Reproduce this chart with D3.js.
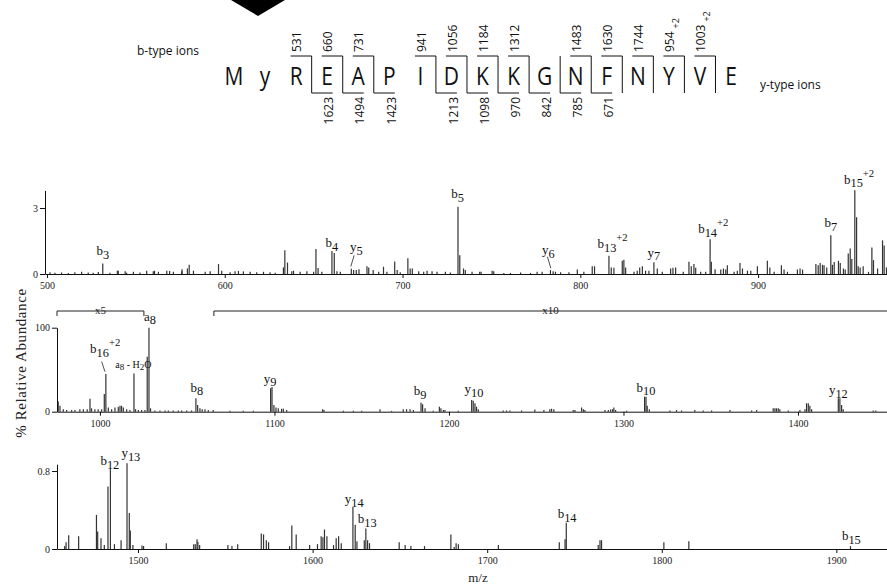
<!DOCTYPE html>
<html>
<head>
<meta charset="utf-8">
<script src="https://cdn.jsdelivr.net/npm/d3@7"></script>
<style>
  html, body { margin: 0; padding: 0; background: #fff; }
  svg { display: block; }
</style>
</head>
<body>
<svg id="chart" width="887" height="587"></svg>
<script>
// ---------- peptide sequence and fragment ladder ----------
const residues = ["M","y","R","E","A","P","I","D","K","K","G","N","F","N","Y","V","E"];
// b-type ions: cleavage after residue index
const bSites   = [2, 3, 4, 6, 7, 8, 9, 11, 12, 13, 14, 15];
const bMasses  = ["531","660","731","941","1056","1184","1312","1483","1630","1744","954","1003"];
const bCharges = ["","","","","","","","","","","+2","+2"];
// y-type ions: cleavage after residue index
const ySites  = [2, 3, 4, 6, 7, 8, 9, 10, 11];
const yMasses = ["1623","1494","1423","1213","1098","970","842","785","671"];

// ---------- spectrum segment 1 (m/z 499–972) ----------
const mz1 = [501.7,504.5,508.2,512,515.7,519.5,523.2,526,528.9,531.4,535.4,539.6,540.1,544,544.8,548.6,552.3,556.1,559.8,560.5,562.7,567.4,569,571.1,575.8,576,579,580,582.4,589,591.8,596.5,598.3,603,605.8,607.7,610.5,614.3,618,621.8,625.5,628.4,633,633.8,635.3,637.7,638.7,642.4,646.2,650,651.3,652.5,654.6,660.3,661.6,663.1,665,671.2,672.5,674,675.5,680,681,683.5,686.6,689.3,691.2,695.6,697,698.7,703,704.3,705.5,709.1,711.9,713.8,716.6,719.4,724.1,726.9,731.2,732.2,734.3,735.3,739.1,743.4,744.2,750.4,751.3,757,760.7,766.4,772,775.7,778.5,783.2,784.7,786,788.9,793.6,798.3,802,806.7,808,816.1,817.4,818.9,823.6,824.5,825.5,830.2,832,833.4,834.9,836.7,838.6,841.4,843.3,846.1,850.8,852.1,853.6,857.9,861.1,862.4,863.9,864.9,867.7,870.5,873,873.7,875.8,879,880.5,881.8,882.7,886.5,888.3,889.8,891.2,894,895.9,899.6,905.2,906.6,909,913.1,914.6,916.5,922.1,923.6,925,932.5,933.8,934.9,936.2,937.1,938.6,940.9,941.8,942.8,945.2,946.2,948,949,950.7,951.8,952.7,954.4,955.4,956.3,957.4,959.1,962.1,964,964.9,967.2,970,970.9,972.2];
const int1 = [0.08,0.06,0.07,0.05,0.08,0.1,0.07,0.06,0.09,0.48,0.06,0.15,0.15,0.12,0.06,0.1,0.07,0.15,0.12,0.15,0.1,0.15,0.14,0.1,0.12,0.22,0.25,0.42,0.15,0.1,0.12,0.45,0.15,0.08,0.12,0.14,0.12,0.1,0.08,0.1,0.08,0.06,0.3,1.08,0.52,0.12,0.15,0.1,0.12,0.1,1.14,0.27,0.1,1.04,0.95,0.12,0.1,0.24,0.18,0.18,0.22,0.35,0.3,0.18,0.1,0.33,0.1,0.57,0.18,0.08,0.72,0.25,0.25,0.12,0.1,0.15,0.12,0.1,0.1,0.07,3.06,0.85,0.25,0.18,0.1,0.1,0.1,0.15,0.12,0.05,0.05,0.07,0.05,0.1,0.1,0.18,0.12,0.1,0.08,0.08,0.2,0.1,0.35,0.35,0.83,0.3,0.28,0.6,0.65,0.3,0.1,0.15,0.3,0.35,0.15,0.15,0.53,0.25,0.1,0.25,0.28,0.3,0.1,0.56,0.35,0.45,0.28,0.1,0.1,1.58,0.56,0.22,0.2,0.25,0.2,0.4,0.1,0.15,0.5,0.25,0.15,0.15,0.35,0.6,0.3,0.1,0.4,0.2,0.1,0.2,0.25,0.2,0.45,0.4,0.5,0.42,0.4,0.3,1.76,0.42,0.55,0.6,0.5,0.25,0.2,0.93,1.16,0.68,3.81,2.58,0.35,0.3,0.35,0.1,1.2,0.63,0.25,1.53,1.3,0.3];

// ---------- spectrum segment 2 (m/z 975–1451) ----------
const mz2 = [976.1,977.1,979,980.9,983.8,985.7,988.5,990.5,992.7,994.3,995.2,997.1,999,1001,1002.5,1003.4,1004.8,1006.7,1008.6,1010.5,1011.5,1012.4,1013.4,1015.3,1017.2,1019.5,1020.4,1022,1023.9,1025.8,1027.1,1028.1,1029,1031.5,1034.4,1037.3,1039.2,1042,1044.9,1046.8,1049.7,1052.5,1055,1056,1057.3,1058.6,1060.2,1062.1,1064.9,1074.5,1082.1,1087.9,1097.8,1098.6,1099.7,1100.9,1102.2,1104.1,1105.1,1107,1127.6,1128.4,1139.5,1145.2,1150,1160.5,1167.1,1173.8,1175.7,1177.7,1179.6,1184,1184.9,1186.3,1191,1194.5,1195.4,1196.8,1197.7,1205.3,1213,1213.9,1214.9,1215.8,1216.8,1231.1,1233,1234.9,1241.6,1249.2,1254.4,1257.8,1258.8,1260.1,1271.2,1272.2,1276,1277,1277.9,1289.4,1291.3,1292.6,1293.7,1294.5,1295.5,1301.8,1312.1,1312.9,1313.6,1314.8,1326.6,1330.4,1333.3,1340.9,1345.7,1350.5,1361,1373.4,1376.3,1385.8,1386.8,1387.7,1388.7,1389.6,1394.4,1401.1,1404,1404.9,1405.9,1406.8,1407.8,1423.1,1424,1425,1425.9,1443.1,1444.6];
const int2 = [12,7,3,2,2,2,3,3,3,15.5,4,3,3,3,21,44.9,5,3,5,6,7,7,5,3,2,45.6,3,2,2,2,65.5,100,4,1.5,1.5,1.5,1.5,1.5,1.5,1.5,1.5,1.5,16,8,4,3,3,2,2,1,1,1,27.8,29.5,8,5,4,3.5,3.5,2,3,2,1,1,1,3,1,3,3,3,2,10.7,9,4,1,6,4,2,2,1,14,13,10,6,3,1.5,1.5,1.5,1.5,2.5,2,3,3.5,3,2,2,5,3,2,2,2,2.5,3,5,2,1,17.9,17.9,7,3,1.5,2,1.5,2,1.5,1.5,2,1.5,2,4,4,4,4,3,1.5,2,3,10,10,7,3,16,16,8,3,1.5,1.5];

// ---------- spectrum segment 3 (m/z 1454–1929) ----------
const mz3 = [1458,1458.8,1460.3,1466,1476.2,1476.9,1478.8,1480.7,1482.8,1484.2,1486.5,1490.3,1493.7,1495,1495.6,1497.1,1502.3,1503.2,1516.2,1531.9,1532.8,1533.8,1534.3,1535.3,1551.5,1553.8,1557.1,1570.6,1571.9,1573.5,1574.8,1586.8,1588.1,1590.6,1598.3,1602.8,1604.9,1605.9,1606.8,1608.2,1612,1613.5,1614.9,1616.4,1623.1,1624.4,1625.4,1629.6,1630.5,1631.5,1632.6,1649.6,1653,1656.3,1664.1,1679.2,1681.1,1682.2,1683.5,1706.4,1741.3,1744.6,1745.3,1763.6,1764.6,1765.5,1801.2,1815.5,1908.1];
const int3 = [0.03,0.07,0.14,0.13,0.35,0.18,0.11,0.04,0.64,0.82,0.05,0.09,0.88,0.37,0.19,0.04,0.035,0.03,0.06,0.05,0.05,0.1,0.075,0.04,0.04,0.03,0.05,0.16,0.15,0.09,0.07,0.03,0.24,0.15,0.04,0.05,0.13,0.12,0.2,0.13,0.04,0.11,0.13,0.06,0.43,0.25,0.08,0.09,0.21,0.09,0.06,0.07,0.04,0.03,0.03,0.15,0.02,0.06,0.05,0.04,0.07,0.1,0.27,0.04,0.09,0.09,0.07,0.08,0.03];

// ---------- axis ticks ----------
const xTicks1 = [500, 600, 700, 800, 900];
const xTicks2 = [1000, 1100, 1200, 1300, 1400];
const xTicks3 = [1500, 1600, 1700, 1800, 1900];
const yTicks1 = [0, 3];
const yTicks2 = [0, 100];
const yTicks3 = [0, 0.8];

// ---------- assigned fragment ions ----------
const ionType1 = ["b","b","y","b","y","b","y","b","b","b"];
const ionNum1  = ["3","4","5","5","6","13","7","14","7","15"];
const ionSup1  = ["","","","","","+2","","+2","","+2"];
const ionMz1   = [531.4, 660.3, 671.2, 731.2, 783.2, 816.1, 841.4, 873, 940.9, 954.4];

const ionType2 = ["b","a","b","y","b","y","b","y"];
const ionNum2  = ["16","8","8","9","9","10","10","12"];
const ionSup2  = ["+2","","","","","","",""];
const ionMz2   = [1003.4, 1028.1, 1055, 1098.6, 1184, 1213, 1312.1, 1423.1];

const ionType3 = ["b","y","y","b","b","b"];
const ionNum3  = ["12","13","14","13","14","15"];
const ionSup3  = ["","","","","",""];
const ionMz3   = [1484.2, 1493.7, 1623.1, 1630.5, 1745.3, 1908.1];

// scale-up brackets over segment 2
const zoomFrom  = [975.4, 1065.3];
const zoomTo    = [1025.2, 1451];
const zoomLabel = ["x5", "x10"];

// ---------- layout ----------
const W = 887, H = 587;
const svg = d3.select("#chart");
const serif = "Liberation Serif, Times New Roman, serif";
const sans = "Open Sans, Noto Sans, sans-serif";
const barColor = "#333";

const panels = [
  { mz: mz1, ints: int1, xd: [498.9, 972.5], xr: [45, W], yd: [0, 3.8], yr: [274, 190.4],
    xt: xTicks1, yt: yTicks1, ytf: d3.format("d"),
    ions: { type: ionType1, num: ionNum1, sup: ionSup1, mz: ionMz1 } },
  { mz: mz2, ints: int2, xd: [975.4, 1451], xr: [57, W], yd: [0, 100], yr: [411.7, 327.7],
    xt: xTicks2, yt: yTicks2, ytf: d3.format("d"),
    ions: { type: ionType2, num: ionNum2, sup: ionSup2, mz: ionMz2 } },
  { mz: mz3, ints: int3, xd: [1453.6, 1929], xr: [57, W], yd: [0, 0.87], yr: [549, 464.2],
    xt: xTicks3, yt: yTicks3, ytf: v => v === 0 ? "0" : d3.format(".1f")(v),
    ions: { type: ionType3, num: ionNum3, sup: ionSup3, mz: ionMz3 } }
];

// per-label nudges: [dx, dy of baseline above peak top], optional leader line
const nudge = [
  [[0,-8],[0,-4],[5,-17.3,[2.8,-13.3,-0.5,-2.3]],[-0.5,-8.7],[-2,-15.7,[-3,-13.3,0.4,-1.7]],[-2,-7.7],[0,-5.6],[-2.5,-6],[0,-8.3],[-1.4,-6.5]],
  [[-6.4,-21,[-4.2,-12.3,-0.9,-2.3]],[1,-7],[1,-6.6],[-2,-4.2],[-1,-7.7],[2.3,-6.7],[1.4,-5],[0,-4]],
  [[-0.6,-4],[3.8,-6],[1.2,-3.7],[1.3,-5.2],[0.8,-4.4],[0.8,-6]]
];

function ionLabel(g, x, y, type, num, sup, size) {
  const t = g.append("text")
    .attr("x", x).attr("y", y)
    .style("font-family", serif).style("font-size", size + "px")
    .attr("fill", "#111");
  t.append("tspan").text(type);
  t.append("tspan").attr("dy", size * 0.28).style("font-size", (size * 0.95) + "px").text(num);
  const w = t.node().getComputedTextLength();
  t.attr("x", x - w / 2);
  if (sup) {
    t.append("tspan").attr("dy", -size * 0.8).style("font-size", (size * 0.82) + "px").text(sup);
  }
  return t;
}

panels.forEach((p, pi) => {
  const x = d3.scaleLinear().domain(p.xd).range(p.xr);
  const y = d3.scaleLinear().domain(p.yd).range(p.yr);
  const g = svg.append("g");

  // peaks
  g.append("g").selectAll("line").data(p.mz.map((m, i) => [m, p.ints[i]]))
    .join("line")
    .attr("x1", d => x(d[0])).attr("x2", d => x(d[0]))
    .attr("y1", y(0)).attr("y2", d => y(d[1]))
    .attr("stroke", barColor).attr("stroke-width", 1.2);

  // axes
  const xa = g.append("g").attr("transform", `translate(0,${y(0)})`)
    .call(d3.axisBottom(x).tickValues(p.xt).tickFormat(d3.format("d"))
      .tickSize(4).tickSizeOuter(0).tickPadding(4));
  const ya = g.append("g").attr("transform", `translate(${p.xr[0]},0)`)
    .call(d3.axisLeft(y).tickValues(p.yt).tickSize(5).tickSizeOuter(0).tickPadding(2).tickFormat(p.ytf));
  [xa, ya].forEach(a => {
    a.attr("font-family", null).attr("font-size", null);
    a.selectAll("path, line").attr("stroke", "#111");
    a.selectAll("text").style("font-family", serif).style("font-size", "10px").attr("fill", "#222");
  });

  // ion annotations
  p.ions.mz.forEach((m, i) => {
    const k = d3.minIndex(p.mz, v => Math.abs(v - m));
    const px = x(p.mz[k]), py = y(p.ints[k]);
    const n = nudge[pi][i];
    ionLabel(g, px + n[0], py + n[1], p.ions.type[i], p.ions.num[i], p.ions.sup[i], 13);
    if (n[2]) {
      g.append("line")
        .attr("x1", px + n[2][0]).attr("y1", py + n[2][1])
        .attr("x2", px + n[2][2]).attr("y2", py + n[2][3])
        .attr("stroke", "#222").attr("stroke-width", 0.8);
    }
  });

  if (pi === 1) {
    // a8 - H2O label on the neighbouring peak
    const k = d3.minIndex(p.mz, v => Math.abs(v - 1019.5));
    const px = x(p.mz[k]), py = y(p.ints[k]);
    const t = g.append("text").style("font-family", serif).style("font-size", "10px").attr("fill", "#111")
      .attr("y", py - 5.4);
    t.append("tspan").text("a");
    t.append("tspan").attr("dy", 2.5).style("font-size", "9px").text("8");
    t.append("tspan").attr("dy", -2.5).text(" - H");
    t.append("tspan").attr("dy", 2.5).style("font-size", "9px").text("2");
    t.append("tspan").attr("dy", -2.5).text("O");
    const w = t.node().getComputedTextLength();
    t.attr("x", px - 0.5 - w / 2);

    // magnification brackets
    const by = 311;
    zoomFrom.forEach((f, i) => {
      const x0 = x(f), x1 = x(zoomTo[i]);
      const pathD = zoomTo[i] >= p.xd[1]
        ? `M${x0},${by + 5}V${by}H${x1}`
        : `M${x0},${by + 5}V${by}H${x1}V${by + 5}`;
      g.append("path").attr("d", pathD).attr("fill", "none").attr("stroke", "#222").attr("stroke-width", 1);
      g.append("text").attr("x", (x0 + Math.min(x1, W)) / 2).attr("y", by + 3)
        .attr("text-anchor", "middle").style("font-family", serif).style("font-size", "11px")
        .attr("fill", "#222").text(zoomLabel[i]);
    });
  }
});

// axis titles
svg.append("text")
  .attr("transform", "translate(26,363) rotate(-90)")
  .attr("text-anchor", "middle").style("font-family", serif).style("font-size", "15px")
  .attr("letter-spacing", 0.6).attr("fill", "#222")
  .text("% Relative Abundance");
svg.append("text")
  .attr("x", 478).attr("y", 582).attr("text-anchor", "middle")
  .style("font-family", serif).style("font-size", "13px").attr("fill", "#222")
  .text("m/z");

// ---------- sequence header ----------
const seqX = d3.scalePoint().domain(d3.range(residues.length)).range([234, 731]);
const seq = svg.append("g");
const topY = 56, botY = 93, letterY = 85;

// modification marker
const triX = seqX(0) + 24;
seq.append("path")
  .attr("d", d3.line()([[triX - 27, 0], [triX + 27, 0], [triX, 16]]) + "Z")
  .attr("fill", "#000");

seq.selectAll("text.res").data(residues).join("text")
  .attr("class", "res")
  .attr("transform", (d, i) => `translate(${seqX(i)},${letterY}) scale(0.84,1)`)
  .attr("text-anchor", "middle")
  .style("font-family", sans).style("font-size", "25px").attr("fill", "#111")
  .text(d => d);

const cut = i => (seqX(i) + seqX(i + 1)) / 2;
const sites = Array.from(new Set(bSites.concat(ySites)));
sites.forEach(s => {
  const xc = cut(s);
  const hasB = bSites.includes(s), hasY = ySites.includes(s);
  let d = `M${xc},${topY}V${botY}`;
  if (hasB) d += `M${xc - 21},${topY}H${xc}`;
  if (hasY) d += `M${xc},${botY}H${xc + 21}`;
  seq.append("path").attr("d", d).attr("fill", "none").attr("stroke", "#111").attr("stroke-width", 1);
});

bSites.forEach((s, i) => {
  const t = seq.append("text")
    .attr("transform", `translate(${seqX(s) + 1},${topY - 4}) rotate(-90)`)
    .attr("dy", "0.35em")
    .style("font-family", sans).style("font-size", "12px").attr("fill", "#111");
  t.append("tspan").text(bMasses[i]);
  if (bCharges[i]) t.append("tspan").attr("dx", 3).attr("dy", 5).style("font-size", "9px").text(bCharges[i]);
});
ySites.forEach((s, i) => {
  seq.append("text")
    .attr("transform", `translate(${seqX(s + 1) + 2},${botY + 4}) rotate(-90)`)
    .attr("dy", "0.35em").attr("text-anchor", "end")
    .style("font-family", sans).style("font-size", "12px").attr("fill", "#111")
    .text(yMasses[i]);
});

svg.append("text").attr("x", 137).attr("y", 55)
  .style("font-family", sans).style("font-size", "12px").attr("fill", "#111").text("b-type ions");
svg.append("text").attr("x", 760).attr("y", 89)
  .style("font-family", sans).style("font-size", "12px").attr("fill", "#111").text("y-type ions");
</script>
</body>
</html>
